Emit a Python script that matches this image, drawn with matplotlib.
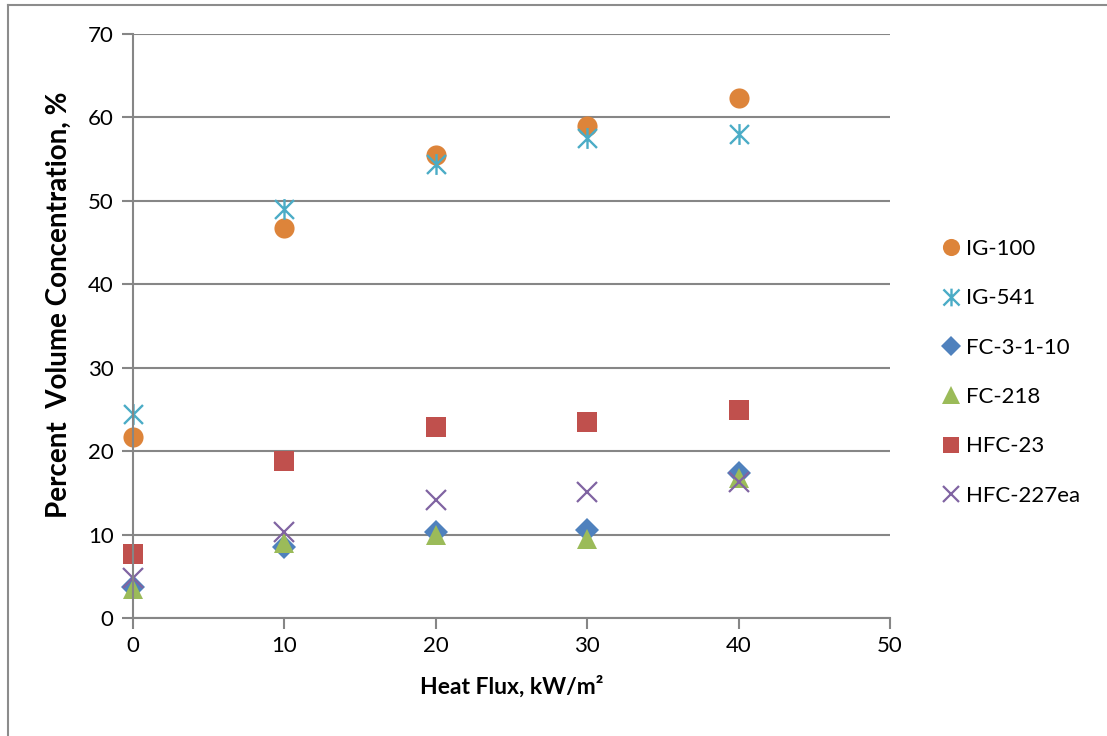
import matplotlib
matplotlib.use("Agg")
import matplotlib.pyplot as plt
from matplotlib.lines import Line2D
from matplotlib.path import Path

plt.rcParams['font.family'] = ['Lato', 'DejaVu Sans']

heat_flux = [0, 10, 20, 30, 40]
ig100 = [21.7, 46.8, 55.5, 59.0, 62.3]
ig541 = [24.4, 49.0, 54.4, 57.5, 58.0]
fc3110 = [3.7, 8.5, 10.3, 10.6, 17.4]
fc218 = [3.5, 9.0, 9.9, 9.5, 16.8]
hfc23 = [7.7, 18.8, 22.9, 23.5, 24.9]
hfc227ea = [4.8, 10.3, 14.1, 15.1, 16.3]

# Excel-style star: X plus a vertical bar
star = Path([(-1, -1), (1, 1), (-1, 1), (1, -1), (0, -1.1), (0, 1.1)],
            [Path.MOVETO, Path.LINETO, Path.MOVETO, Path.LINETO, Path.MOVETO, Path.LINETO])

series = [
    ("IG-100", ig100, "o", "#DD843A", 14.5, 0),
    ("IG-541", ig541, star, "#4BACC6", 15, 1.7),
    ("FC-3-1-10", fc3110, "D", "#4F81BD", 12, 0),
    ("FC-218", fc218, "^", "#9BBB59", 15, 0),
    ("HFC-23", hfc23, "s", "#C0504D", 14, 0),
    ("HFC-227ea", hfc227ea, "x", "#8064A2", 14, 1.6),
]

fig = plt.figure(figsize=(11.07, 7.36), dpi=100)
ax = fig.add_axes([133/1107, 118/736, 757/1107, 584/736])

for name, vals, mk, col, ms, mew in series:
    ax.plot(heat_flux, vals, marker=mk, linestyle='none', color=col, markersize=ms,
            markeredgewidth=mew, label=name, clip_on=False)

ax.set_xlim(0, 50)
ax.set_ylim(0, 70)
ax.set_xticks(range(0, 51, 10))
ax.set_yticks(range(0, 71, 10))
ax.grid(axis='y', color='#868686', linewidth=1.5)
ax.set_axisbelow(True)
for s in ['top', 'right']:
    ax.spines[s].set_visible(False)
for s in ['left', 'bottom']:
    ax.spines[s].set_color('#868686')
    ax.spines[s].set_linewidth(1.5)
ax.tick_params(axis='both', colors='#868686', length=8, width=1.5, labelsize=16, labelcolor='black')
ax.tick_params(axis='y', pad=6)
ax.tick_params(axis='x', pad=5)

ax.set_xlabel("Heat Flux, kW/m²", fontsize=16.5, fontweight='bold', labelpad=14)
ax.set_ylabel("Percent  Volume Concentration, %", fontsize=20, fontweight='bold')
ax.yaxis.set_label_coords((72 - 133) / 757, (618 - 305) / 584)

leg = ax.legend(loc='center left', bbox_to_anchor=((940 - 133) / 757, (618 - 372.5) / 584), frameon=False,
                fontsize=16, labelspacing=1.32, handletextpad=0.15, handlelength=1.0, markerscale=0.85,
                borderpad=0, borderaxespad=0)

# outer chart border
fig.add_artist(Line2D([8/1107, 8/1107], [0, 1 - 5/736], color='#8c8c8c', linewidth=1.5))
fig.add_artist(Line2D([8/1107, 1], [1 - 5/736, 1 - 5/736], color='#8c8c8c', linewidth=1.5))

fig.savefig("out.png", dpi=100)
